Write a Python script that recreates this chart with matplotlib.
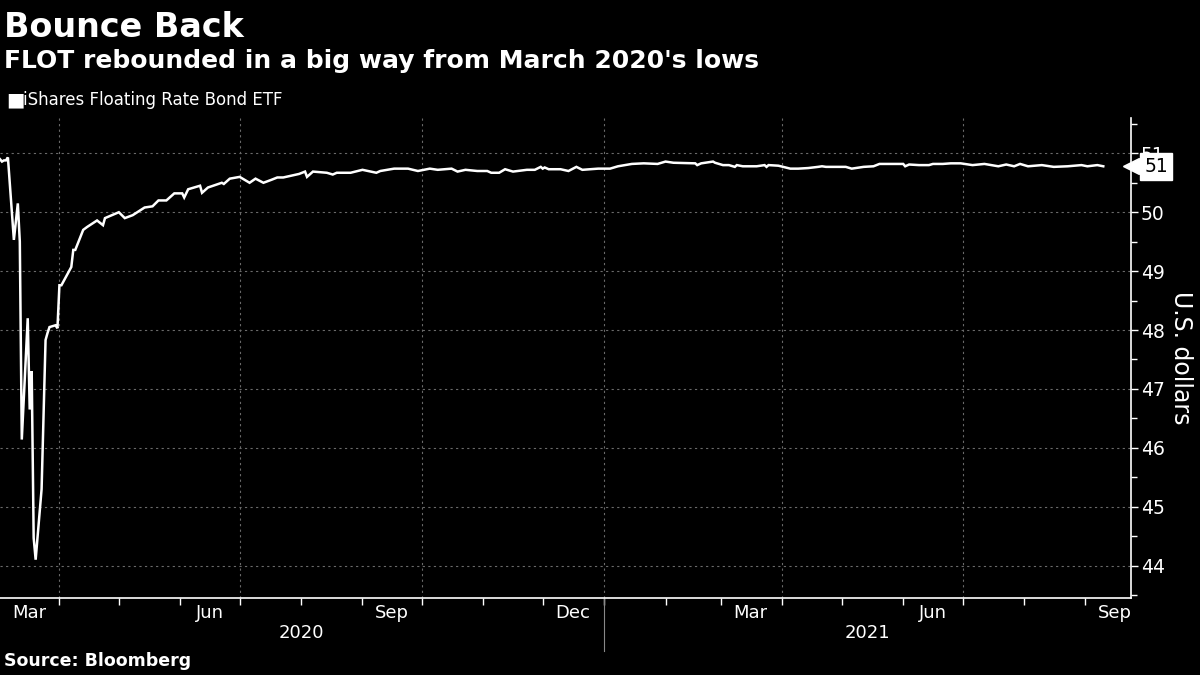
import numpy as np
import pandas as pd
import matplotlib
matplotlib.use('Agg')
import matplotlib.pyplot as plt
import matplotlib.dates as mdates
import matplotlib.transforms as mtransforms

title = 'Bounce Back'
subtitle = "FLOT rebounded in a big way from March 2020's lows"
series_name = 'iShares Floating Rate Bond ETF'
y_label = 'U.S. dollars'
source = 'Source: Bloomberg'

dates = [
    '2020-03-02', '2020-03-03', '2020-03-04', '2020-03-05', '2020-03-06',
    '2020-03-09', '2020-03-11', '2020-03-12', '2020-03-13', '2020-03-16',
    '2020-03-17', '2020-03-18', '2020-03-19', '2020-03-20', '2020-03-23',
    '2020-03-24', '2020-03-25', '2020-03-26', '2020-03-27', '2020-03-30',
    '2020-03-31', '2020-04-01', '2020-04-02', '2020-04-07', '2020-04-08',
    '2020-04-09', '2020-04-13', '2020-04-15', '2020-04-20', '2020-04-23',
    '2020-04-24', '2020-05-01', '2020-05-04', '2020-05-08', '2020-05-14',
    '2020-05-18', '2020-05-21', '2020-05-25', '2020-05-29', '2020-06-02',
    '2020-06-03', '2020-06-05', '2020-06-11', '2020-06-12', '2020-06-15',
    '2020-06-22', '2020-06-23', '2020-06-26', '2020-07-01', '2020-07-06',
    '2020-07-09', '2020-07-13', '2020-07-17', '2020-07-20', '2020-07-23',
    '2020-07-27', '2020-07-31', '2020-08-03', '2020-08-04', '2020-08-07',
    '2020-08-14', '2020-08-17', '2020-08-19', '2020-08-26', '2020-09-01',
    '2020-09-08', '2020-09-10', '2020-09-17', '2020-09-24', '2020-09-29',
    '2020-10-05', '2020-10-09', '2020-10-16', '2020-10-19', '2020-10-23',
    '2020-10-29', '2020-11-03', '2020-11-05', '2020-11-09', '2020-11-12',
    '2020-11-16', '2020-11-23', '2020-11-27', '2020-11-30', '2020-12-01',
    '2020-12-02', '2020-12-04', '2020-12-10', '2020-12-14', '2020-12-18',
    '2020-12-21', '2020-12-29', '2021-01-04', '2021-01-08', '2021-01-15',
    '2021-01-21', '2021-01-28', '2021-02-01', '2021-02-05', '2021-02-16',
    '2021-02-17', '2021-02-19', '2021-02-25', '2021-02-26', '2021-03-02',
    '2021-03-05', '2021-03-08', '2021-03-09', '2021-03-12', '2021-03-19',
    '2021-03-23', '2021-03-24', '2021-03-25', '2021-03-30', '2021-04-05',
    '2021-04-09', '2021-04-14', '2021-04-19', '2021-04-21', '2021-04-23',
    '2021-05-03', '2021-05-06', '2021-05-12', '2021-05-17', '2021-05-20',
    '2021-06-01', '2021-06-02', '2021-06-04', '2021-06-09', '2021-06-14',
    '2021-06-16', '2021-06-21', '2021-06-25', '2021-06-30', '2021-07-06',
    '2021-07-12', '2021-07-19', '2021-07-23', '2021-07-27', '2021-07-30',
    '2021-08-03', '2021-08-10', '2021-08-16', '2021-08-23', '2021-08-30',
    '2021-09-02', '2021-09-07', '2021-09-10',
]

prices = [
    50.90, 50.86, 50.88, 50.88, 50.93,
    49.53, 50.15, 49.50, 46.14, 48.20,
    46.65, 47.30, 44.47, 44.10, 45.30,
    46.60, 47.83, 47.95, 48.05, 48.08,
    48.03, 48.76, 48.76, 49.07, 49.36,
    49.36, 49.70, 49.75, 49.86, 49.78,
    49.90, 50.00, 49.90, 49.95, 50.08,
    50.10, 50.20, 50.20, 50.32, 50.32,
    50.25, 50.39, 50.45, 50.33, 50.42,
    50.50, 50.48, 50.57, 50.60, 50.50,
    50.57, 50.50, 50.55, 50.59, 50.59,
    50.62, 50.65, 50.69, 50.60, 50.69,
    50.67, 50.64, 50.67, 50.67, 50.72,
    50.67, 50.70, 50.74, 50.74, 50.70,
    50.74, 50.72, 50.74, 50.69, 50.72,
    50.70, 50.70, 50.67, 50.67, 50.73,
    50.69, 50.72, 50.72, 50.77, 50.74,
    50.76, 50.73, 50.73, 50.70, 50.77,
    50.72, 50.74, 50.74, 50.78, 50.82,
    50.83, 50.82, 50.86, 50.84, 50.83,
    50.80, 50.83, 50.86, 50.84, 50.80,
    50.80, 50.77, 50.80, 50.78, 50.78,
    50.80, 50.77, 50.80, 50.79, 50.74,
    50.74, 50.75, 50.77, 50.78, 50.77,
    50.77, 50.74, 50.77, 50.78, 50.82,
    50.82, 50.78, 50.81, 50.80, 50.80,
    50.82, 50.82, 50.83, 50.83, 50.80,
    50.82, 50.78, 50.81, 50.78, 50.82,
    50.78, 50.80, 50.77, 50.78, 50.80,
    50.78, 50.80, 50.78,
]

x_start = '2020-03-02'
x_end = '2021-09-24'
y_min, y_max = 43.45, 51.6
y_ticks = [44, 45, 46, 47, 48, 49, 50, 51]
month_labels = ['2020-03', '2020-06', '2020-09', '2020-12', '2021-03', '2021-06', '2021-09']
grid_months = ['2020-04-01', '2020-07-01', '2020-10-01', '2021-01-01', '2021-04-01', '2021-07-01']
years = ['2020', '2021']

plt.rcParams['font.family'] = ['DejaVu Sans']

dates = pd.to_datetime(dates)
xs, xe = pd.Timestamp(x_start), pd.Timestamp(x_end)

fig = plt.figure(figsize=(12, 6.75), dpi=100, facecolor='black')
ax = fig.add_axes([0.0, 0.1141, 0.9425, 0.7111], facecolor='black')

ax.plot(dates, prices, color='white', lw=1.8, solid_joinstyle='miter', zorder=3)

ax.set_xlim(xs, xe)
ax.set_ylim(y_min, y_max)

for s in ['top', 'left']:
    ax.spines[s].set_visible(False)
for s in ['right', 'bottom']:
    ax.spines[s].set_color('white')
    ax.spines[s].set_linewidth(1.2)

# y axis on the right
ax.yaxis.tick_right()
ax.set_yticks(y_ticks)
ax.set_yticks(np.arange(43.5, 51.6, 1.0), minor=True)
ax.tick_params(axis='y', which='major', colors='white', labelsize=13.5, length=5, width=1, pad=2)
ax.tick_params(axis='y', which='minor', colors='white', length=4, width=1)
for y in y_ticks:
    ax.axhline(y, color='#6a6a6a', lw=0.8, ls=(0, (2, 3)), zorder=1)
ax.yaxis.set_label_position('right')
ax.set_ylabel(y_label, color='white', fontsize=17, rotation=-90, labelpad=20)

# x axis: monthly ticks, labels mid-month
ax.xaxis.set_major_locator(mdates.MonthLocator())
ax.xaxis.set_major_formatter(plt.NullFormatter())
ax.tick_params(axis='x', which='major', colors='white', length=5, width=1)
label_pos = [pd.Timestamp(m + '-16') for m in month_labels]
label_pos[0] = xs + (pd.Timestamp('2020-04-01') - xs) / 2
ax.set_xticks(label_pos, minor=True)
ax.set_xticklabels([pd.Timestamp(m + '-01').strftime('%b') for m in month_labels], minor=True)
ax.tick_params(axis='x', which='minor', colors='white', length=0, labelsize=13, pad=4)
for g in grid_months:
    ax.axvline(pd.Timestamp(g), color='#6a6a6a', lw=0.8, ls=(0, (2, 3)), zorder=1)

# year labels and separator
trans = mtransforms.blended_transform_factory(ax.transData, ax.transAxes)
for yr in years:
    a = max(pd.Timestamp(yr + '-01-01'), xs)
    b = min(pd.Timestamp(yr + '-12-31'), xe)
    ax.text(a + (b - a) / 2, -0.055, yr, transform=trans, color='white',
            fontsize=13, ha='center', va='top')
ax.plot([pd.Timestamp(years[1] + '-01-01')] * 2, [0, -0.11], transform=trans,
        color='#888888', lw=0.8, clip_on=False)

# last value tag
last = prices[-1]
tag_trans = mtransforms.blended_transform_factory(ax.transAxes, ax.transData)
ax.plot([1.0], [last], marker='<', ms=11, color='white', mec='white',
        transform=tag_trans, clip_on=False, zorder=5)
ax.text(1.012, last, f'{last:.0f}', transform=tag_trans,
        color='black', fontsize=13.5, ha='left', va='center', zorder=6,
        bbox=dict(boxstyle='square,pad=0.22', fc='white', ec='white'))

# titles
fig.text(0.003, 0.945, title, color='white', fontsize=24, fontweight='bold', va='baseline')
fig.text(0.003, 0.899, subtitle, color='white', fontsize=18, fontweight='bold', va='baseline')
fig.text(0.005, 0.852, '\u25a0', color='white', fontsize=14, va='center')
fig.text(0.019, 0.852, series_name, color='white', fontsize=12, va='center')
fig.text(0.003, 0.007, source, color='white', fontsize=12.5, fontweight='bold', va='bottom')

fig.savefig('out.png', dpi=100, facecolor='black')
